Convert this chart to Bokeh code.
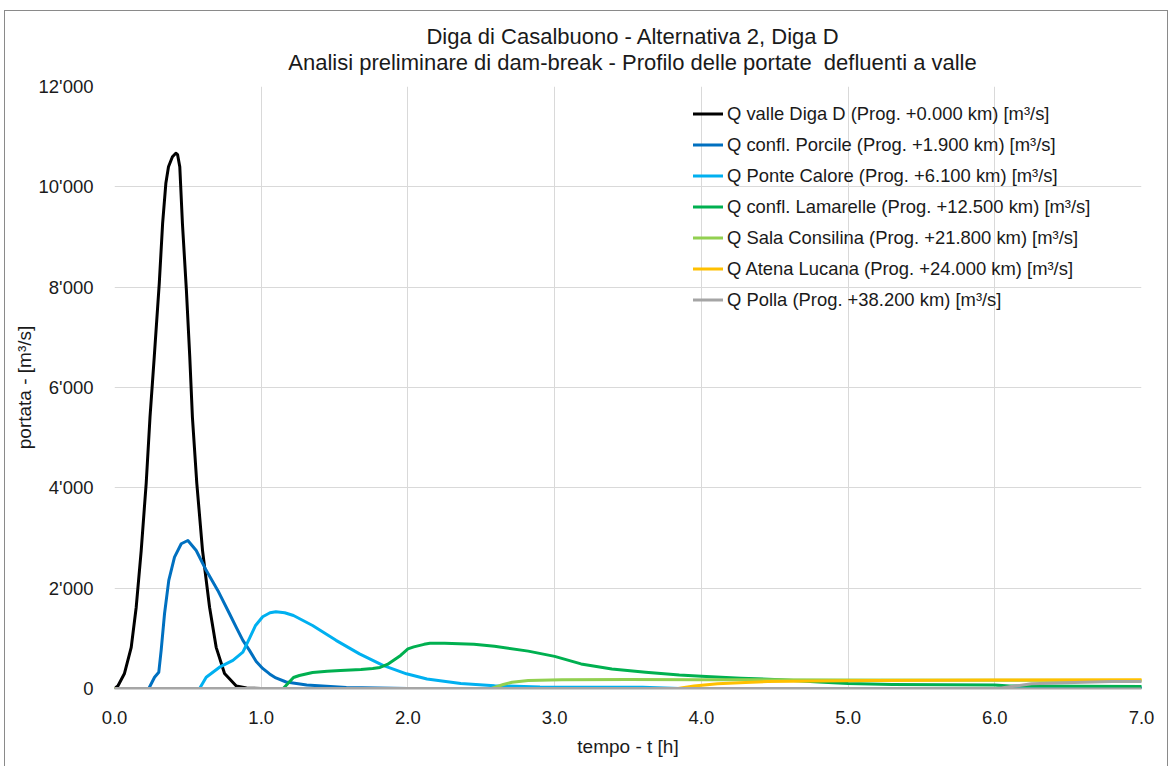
from bokeh.plotting import figure
from bokeh.layouts import column
from bokeh.models import FixedTicker, Legend, LegendItem, Range1d, Div
from bokeh.embed import file_html
from bokeh.resources import INLINE

# ---------------- data ----------------
title_line1 = "Diga di Casalbuono - Alternativa 2, Diga D"
title_line2 = "Analisi preliminare di dam-break - Profilo delle portate  defluenti a valle"
x_label = "tempo - t [h]"
y_label = "portata - [m³/s]"

x_tick_values = [0, 1, 2, 3, 4, 5, 6, 7]
x_tick_labels = ["0.0", "1.0", "2.0", "3.0", "4.0", "5.0", "6.0", "7.0"]
y_tick_values = [0, 2000, 4000, 6000, 8000, 10000, 12000]
y_tick_labels = ["0", "2'000", "4'000", "6'000", "8'000", "10'000", "12'000"]

series_names = [
    "Q valle Diga D (Prog. +0.000 km) [m³/s]",
    "Q confl. Porcile (Prog. +1.900 km) [m³/s]",
    "Q Ponte Calore (Prog. +6.100 km) [m³/s]",
    "Q confl. Lamarelle (Prog. +12.500 km) [m³/s]",
    "Q Sala Consilina (Prog. +21.800 km) [m³/s]",
    "Q Atena Lucana (Prog. +24.000 km) [m³/s]",
    "Q Polla (Prog. +38.200 km) [m³/s]",
]
series_colors = ["#000000", "#0070c0", "#00b0f0", "#00b050", "#92d050", "#ffc000", "#a5a5a5"]

t_valle = [0.0, 0.023, 0.068, 0.114, 0.148, 0.182, 0.216, 0.242, 0.271, 0.305, 0.328, 0.35,
           0.368, 0.395, 0.418, 0.43, 0.445, 0.463, 0.49, 0.513, 0.531, 0.561, 0.60, 0.648,
           0.693, 0.75, 0.83, 0.9, 1.0, 7.0]
q_valle = [0, 50, 300, 820, 1620, 2750, 4090, 5410, 6610, 8070, 9270, 10070,
           10400, 10600, 10670, 10640, 10400, 9270, 7940, 6610, 5410, 4090, 2750, 1620,
           820, 300, 50, 10, 0, 0]

t_porcile = [0.0, 0.234, 0.273, 0.302, 0.318, 0.341, 0.37, 0.409, 0.455, 0.50, 0.557, 0.625,
             0.704, 0.784, 0.83, 0.875, 0.92, 0.966, 1.01, 1.057, 1.10, 1.17, 1.31, 1.58,
             1.9, 2.0, 7.0]
q_porcile = [0, 0, 225, 325, 760, 1490, 2155, 2620, 2885, 2950, 2750, 2355,
             1955, 1490, 1220, 960, 760, 540, 400, 290, 210, 130, 70, 20,
             5, 0, 0]

t_calore = [0.0, 0.58, 0.625, 0.716, 0.807, 0.875, 0.92, 0.96, 1.01, 1.06, 1.10, 1.16,
            1.22, 1.35, 1.51, 1.67, 1.83, 1.99, 2.13, 2.36, 2.59, 2.9, 3.6, 3.85,
            6.0, 6.1, 7.0]
q_calore = [0, 0, 225, 425, 560, 725, 1000, 1250, 1430, 1510, 1530, 1510,
            1455, 1255, 960, 690, 460, 293, 190, 100, 55, 30, 25, 0,
            0, 10, 20]

t_lamarelle = [0.0, 1.15, 1.22, 1.26, 1.35, 1.45, 1.54, 1.68, 1.76, 1.81, 1.86, 1.90,
               1.95, 2.0, 2.04, 2.11, 2.15, 2.25, 2.45, 2.59, 2.82, 3.0, 3.18, 3.39,
               3.62, 3.85, 4.0, 4.27, 4.54, 4.8, 5.0, 5.3, 6.0, 6.1, 7.0]
q_lamarelle = [0, 0, 220, 260, 320, 345, 360, 380, 400, 420, 480, 560,
               660, 790, 830, 880, 900, 900, 880, 840, 745, 640, 490, 390,
               325, 270, 245, 205, 175, 130, 100, 80, 70, 50, 40]

t_sala = [0.0, 2.57, 2.65, 2.71, 2.82, 3.05, 3.5, 4.0, 5.0, 6.0, 7.0]
q_sala = [0, 0, 80, 125, 160, 175, 180, 175, 170, 165, 160]

t_atena = [0.0, 3.84, 3.95, 4.11, 4.3, 4.45, 4.8, 5.18, 6.0, 7.0]
q_atena = [0, 0, 50, 95, 120, 140, 150, 160, 170, 175]

t_polla = [0.0, 6.02, 6.25, 6.54, 6.8, 7.0]
q_polla = [0, 0, 95, 120, 140, 140]

series_t = [t_valle, t_porcile, t_calore, t_lamarelle, t_sala, t_atena, t_polla]
series_q = [q_valle, q_porcile, q_calore, q_lamarelle, q_sala, q_atena, q_polla]

# ---------------- figure ----------------
FONT = "Liberation Sans"
TXT = "#1a1a1a"

p = figure(width=1162, height=691, output_backend="svg", toolbar_location=None,
           x_range=Range1d(0, 7), y_range=Range1d(0, 12000),
           min_border_left=109, min_border_right=26, min_border_top=11, min_border_bottom=78)
p.outline_line_color = None
p.background_fill_color = "white"
p.border_fill_color = "white"

# axes
p.xaxis.ticker = FixedTicker(ticks=x_tick_values)
p.xaxis.major_label_overrides = {v: s for v, s in zip(x_tick_values, x_tick_labels)}
p.yaxis.ticker = FixedTicker(ticks=y_tick_values)
p.yaxis.major_label_overrides = {v: s for v, s in zip(y_tick_values, y_tick_labels)}
for ax in (p.xaxis, p.yaxis):
    ax.major_tick_line_color = None
    ax.minor_tick_line_color = None
    ax.major_tick_out = 0
    ax.major_tick_in = 0
    ax.minor_tick_out = 0
    ax.minor_tick_in = 0
    ax.major_label_text_font = FONT
    ax.major_label_text_font_size = "18.5px"
    ax.major_label_text_color = TXT
    ax.axis_label_text_font = FONT
    ax.axis_label_text_font_size = "19px"
    ax.axis_label_text_font_style = "normal"
    ax.axis_label_text_color = TXT
p.xaxis.axis_label = x_label
p.yaxis.axis_label = y_label
p.xaxis.axis_line_color = "#a6a6a6"
p.xaxis.axis_line_width = 2
p.yaxis.axis_line_color = None
p.xaxis.major_label_standoff = 22
p.xaxis.axis_label_standoff = 9
p.yaxis.major_label_standoff = 21
p.yaxis.axis_label_standoff = 1

p.xgrid.ticker = FixedTicker(ticks=x_tick_values)
p.ygrid.ticker = FixedTicker(ticks=y_tick_values)
p.xgrid.grid_line_color = "#d9d9d9"
p.ygrid.grid_line_color = "#d9d9d9"
p.xgrid.grid_line_width = 1
p.ygrid.grid_line_width = 1

# series
items = []
for name, color, ts, qs in zip(series_names, series_colors, series_t, series_q):
    r = p.line(ts, qs, line_color=color, line_width=3, line_join="round", line_cap="round")
    items.append(LegendItem(label=name, renderers=[r]))

legend = Legend(items=items, location=(579, 373), orientation="vertical",
                label_text_font=FONT, label_text_font_size="18.4px", label_text_color=TXT,
                glyph_width=30, glyph_height=31, label_height=31, label_standoff=4,
                spacing=0, padding=0, margin=0,
                background_fill_alpha=0, border_line_alpha=0)
p.add_layout(legend)

# two-line title, each line centred over the plot area
title_html = (
    '<div style="margin-left:109px; width:1037px; padding-top:13px; text-align:center; '
    'font-family:\'Liberation Sans\'; font-size:22px; line-height:26px; color:#1a1a1a; '
    'white-space:pre;">' + title_line1 + "<br>" + title_line2 + "</div>"
)
title_div = Div(text=title_html, width=1162, height=64, margin=0)

page = column(title_div, p, spacing=0,
              styles={"margin-left": "4px", "margin-top": "10px",
                      "border-left": "1px solid #8a8a8a", "border-top": "1px solid #8a8a8a",
                      "border-right": "1px solid #8a8a8a", "background": "white"})

open("out.html", "w").write(file_html(page, INLINE))
